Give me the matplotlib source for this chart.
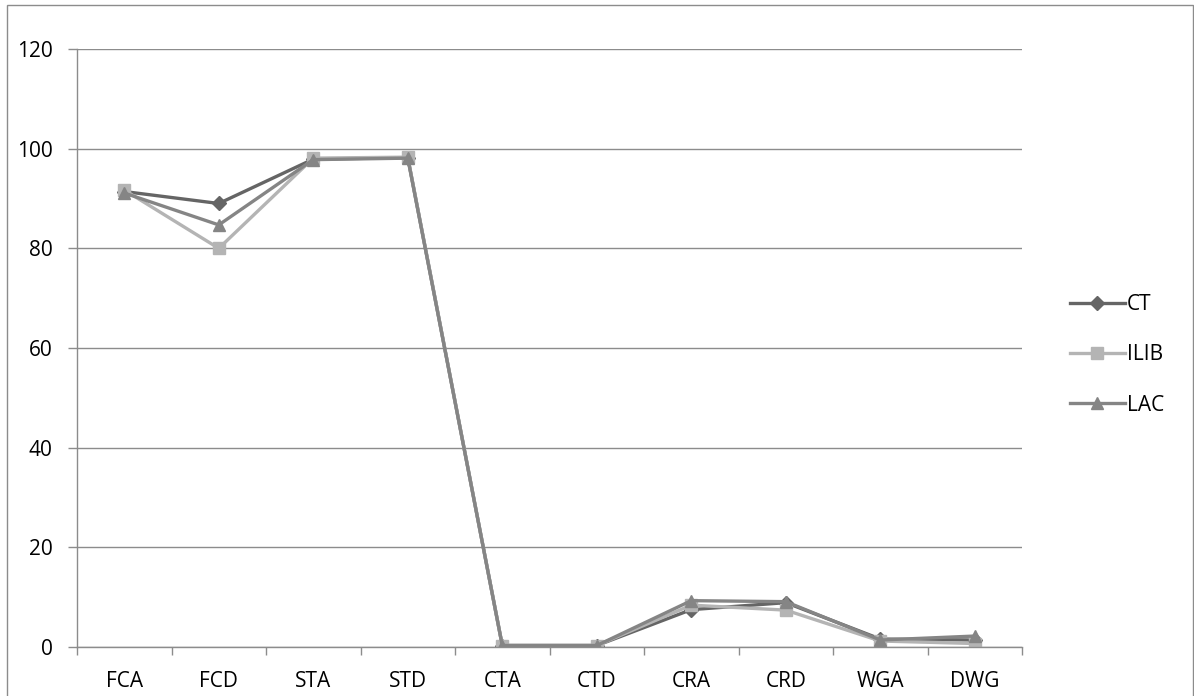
import numpy as np
import matplotlib.pyplot as plt
from matplotlib.patches import Rectangle

# categories and series values
categories = ['FCA', 'FCD', 'STA', 'STD', 'CTA', 'CTD', 'CRA', 'CRD', 'WGA', 'DWG']
ct = [91.4, 89.0, 97.9, 98.2, 0.3, 0.3, 7.5, 8.9, 1.6, 1.4]
ilib = [91.7, 80.0, 98.1, 98.3, 0.3, 0.3, 8.4, 7.4, 1.2, 0.7]
lac = [91.1, 84.7, 97.8, 98.1, 0.3, 0.3, 9.3, 9.1, 1.4, 2.2]

plt.rcParams['font.family'] = ['Open Sans', 'DejaVu Sans']

fig = plt.figure(figsize=(11.94, 6.96), dpi=100)
ax = fig.add_axes([0.0645, 0.0704, 0.7915, 0.8592])

x = np.arange(len(categories))
ax.plot(x, ct, color='#656565', lw=2.4, marker='D', ms=7, label='CT')
ax.plot(x, ilib, color='#b4b4b4', lw=2.4, marker='s', ms=9, label='ILIB')
ax.plot(x, lac, color='#858585', lw=2.4, marker='^', ms=9, label='LAC')

ax.set_xlim(-0.5, len(categories) - 0.5)
ax.set_ylim(0, 120)
ax.set_yticks(np.arange(0, 121, 20))
ax.yaxis.grid(True, color='#8c8c8c', lw=1)
ax.set_axisbelow(True)

# category labels centred, tick marks on the boundaries
ax.set_xticks(x)
ax.set_xticklabels(categories)
ax.set_xticks(np.arange(-0.5, len(categories)), minor=True)
ax.tick_params(axis='x', which='major', length=0, pad=17, labelsize=15)
ax.tick_params(axis='x', which='minor', length=6, color='#8c8c8c', width=1)
ax.tick_params(axis='y', length=6.5, color='#8c8c8c', width=1, pad=11, labelsize=15)

for side in ['top', 'right']:
    ax.spines[side].set_visible(False)
for side in ['left', 'bottom']:
    ax.spines[side].set_color('#8c8c8c')
    ax.spines[side].set_linewidth(1)

leg = fig.legend(loc='center left', bbox_to_anchor=(0.896, 0.49), frameon=False,
                 fontsize=15, handlelength=2.65, labelspacing=1.4, handletextpad=0.1,
                 borderaxespad=0, borderpad=0)

# chart area border
fig.patches.append(Rectangle((0.006, -0.01), 0.993, 1.003, transform=fig.transFigure,
                             fill=False, edgecolor='#8c8c8c', lw=1))

fig.savefig('out.png', dpi=100)
